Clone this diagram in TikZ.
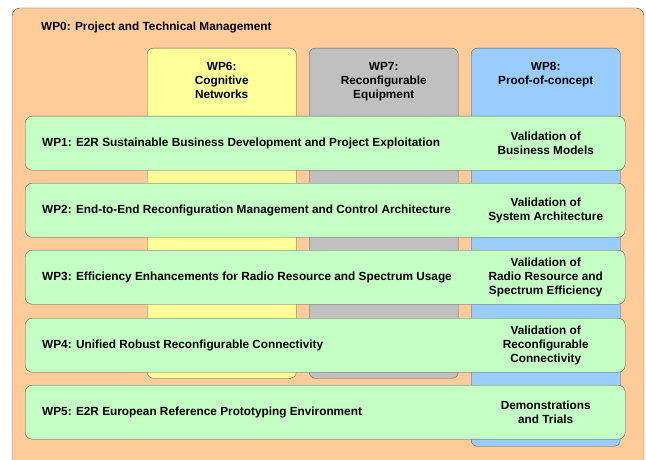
\documentclass[tikz,border=0pt]{standalone}
\usepackage{fontspec}
\setmainfont{Liberation Sans}
\usepackage{tikz}
\usetikzlibrary{positioning}

\definecolor{wpzero}{HTML}{FFCC99}
\definecolor{wpyellow}{HTML}{FFFF99}
\definecolor{wpgray}{HTML}{C0C0C0}
\definecolor{wpblue}{HTML}{99CCFF}
\definecolor{wpgreen}{HTML}{C4FFC4}
\definecolor{wpline}{HTML}{5A5A5A}

\begin{document}
\begin{tikzpicture}%
    [x=1pt, y=-1pt,
    wpfont/.style={font=\fontsize{11.8}{14}\selectfont\bfseries},
    colbox/.style={draw=wpline, rounded corners=6pt, minimum width=149pt, inner sep=0pt, anchor=north west},
    rowbox/.style={draw=wpline, fill=wpgreen, rounded corners=7pt, minimum width=600pt, minimum height=54pt, inner sep=0pt, anchor=north west},
    coltext/.style={wpfont, align=center, anchor=north, inner sep=0pt},
    rowtext/.style={wpfont, anchor=west, inner sep=0pt},
    valtext/.style={wpfont, align=center, inner sep=0pt}]

    \useasboundingbox (0,0) rectangle (646,460);

    % WP0 frame
    \draw [draw=wpline, fill=wpzero, rounded corners=8pt] (12,8) rectangle (644,480);
    \node [wpfont, anchor=west, inner sep=0pt] (wp0) at (41,27) {WP0: Project and Technical Management};

    % columns
    \node [colbox, fill=wpyellow, minimum height=330pt] (wp6) at (147,48) {};
    \node [colbox, fill=wpgray, minimum height=330pt]   (wp7) at (309,48) {};
    \node [colbox, fill=wpblue, minimum height=398pt]   (wp8) at (471,48) {};

    \node [coltext] (wp6t) at ([yshift=-14pt]wp6.north) {WP6:\\Cognitive\\Networks};
    \node [coltext] (wp7t) at ([yshift=-14pt]wp7.north) {WP7:\\Reconfigurable\\Equipment};
    \node [coltext] (wp8t) at ([yshift=-14pt]wp8.north) {WP8:\\Proof-of-concept};

    % rows
    \node [rowbox] (wp1) at (25,116) {};
    \node [rowbox] (wp2) at (25,183) {};
    \node [rowbox] (wp3) at (25,250) {};
    \node [rowbox] (wp4) at (25,318) {};
    \node [rowbox] (wp5) at (25,385) {};

    \node [rowtext] (wp1t) at ([xshift=17pt]wp1.west) {WP1: E2R Sustainable Business Development and Project Exploitation};
    \node [rowtext] (wp2t) at ([xshift=17pt]wp2.west) {WP2: End-to-End Reconfiguration Management and Control Architecture};
    \node [rowtext] (wp3t) at ([xshift=17pt]wp3.west) {WP3: Efficiency Enhancements for Radio Resource and Spectrum Usage};
    \node [rowtext] (wp4t) at ([xshift=17pt]wp4.west) {WP4: Unified Robust Reconfigurable Connectivity};
    \node [rowtext] (wp5t) at ([xshift=17pt]wp5.west) {WP5: E2R European Reference Prototyping Environment};

    \node [valtext] (val1) at (wp8.center |- wp1.center) {Validation of\\Business Models};
    \node [valtext] (val2) at (wp8.center |- wp2.center) {Validation of\\System Architecture};
    \node [valtext] (val3) at (wp8.center |- wp3.center) {Validation of\\Radio Resource and\\Spectrum Efficiency};
    \node [valtext] (val4) at (wp8.center |- wp4.center) {Validation of\\Reconfigurable\\Connectivity};
    \node [valtext] (val5) at (wp8.center |- wp5.center) {Demonstrations\\and Trials};
  \end{tikzpicture}
\end{document}
